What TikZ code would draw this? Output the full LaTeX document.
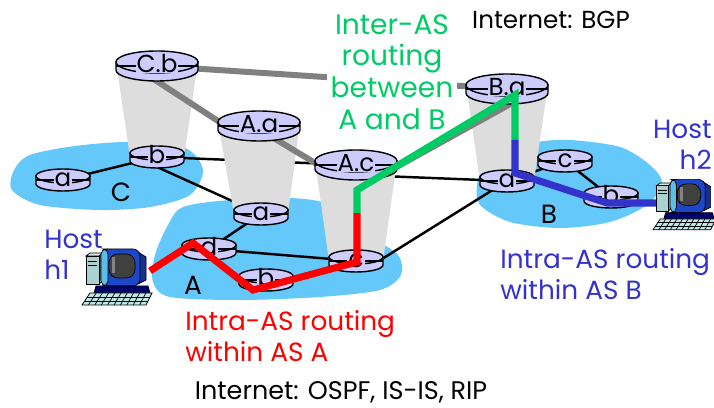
\documentclass[tikz,border=0pt]{standalone}
\usepackage{fontspec}
\setmainfont{Poppins}
\usetikzlibrary{calc}

\definecolor{cloudblue}{RGB}{100,200,250}
\definecolor{rtrfill}{RGB}{204,204,255}
\definecolor{pillargray}{RGB}{221,221,221}
\definecolor{linkgray}{RGB}{128,128,128}
\definecolor{bgpgreen}{RGB}{0,204,102}
\definecolor{ospfblue}{RGB}{51,51,204}
\definecolor{pctower}{RGB}{170,210,210}
\definecolor{pcblue}{RGB}{30,70,200}
\definecolor{pccyan}{RGB}{90,190,230}
\definecolor{pcscreen}{RGB}{64,64,64}
\definecolor{pcnavy}{RGB}{0,0,110}
\definecolor{pckeys}{RGB}{190,232,232}

\tikzset{
  cloud/.style={fill=cloudblue},
  pillar/.style={fill=pillargray},
  link/.style={line width=1.4pt},
  aslink/.style={draw=linkgray, line width=3.4pt},
  route/.style={line width=4pt},
  rtr/.style={draw, fill=rtrfill, line width=0.8pt},
  rtrlabel/.style={fill=rtrfill, inner sep=0.6pt, text height=0.72em, text depth=0pt,
                   font=\fontsize{14}{14}\selectfont},
  aslabel/.style={font=\fontsize{15}{15}\selectfont},
  note/.style={inner sep=0pt, font=\fontsize{15}{18}\selectfont},
  hosttext/.style={note, text=ospfblue},
  computer/.pic={
    % tower
    \draw[fill=pctower!75!black] (17,-13) -- (21,-10) -- (21,-38) -- (17,-41) -- cycle;
    \draw[fill=pctower!50!white] (4,-13) -- (8,-10) -- (21,-10) -- (17,-13) -- cycle;
    \draw[fill=pctower] (4,-13) rectangle (17,-41);
    \draw (6,-18) -- (15,-18) (6,-22) -- (15,-22);
    % monitor
    \draw[fill=pcblue!70!black] (56,-9) -- (64,-14) -- (64,-37) -- (56,-41) -- cycle;
    \draw[fill=pcblue, rounded corners=4] (19,-6) rectangle (58,-43);
    \draw[fill=pccyan, rounded corners=3] (19,-6) rectangle (26,-43);
    \draw[fill=pcscreen, rounded corners=5] (27,-11) rectangle (53,-35);
    \fill[white, opacity=0.35] (30,-14) rectangle (33,-30);
    % base and keyboard
    \draw[fill=pcnavy] (14,-43) -- (66,-43) -- (68,-50) -- (12,-50) -- cycle;
    \draw[fill=pckeys] (8,-50) -- (70,-50) -- (64,-62) -- (0,-62) -- cycle;
    \draw (5.3,-54) -- (68,-54) (2.7,-58) -- (66,-58);
    \foreach \i in {1,...,9} \draw ({8+6.2*\i},-50) -- ({6.4*\i},-62);
  }
}

% router: #1 name, #2 label, #3 x radius, #4 y radius
\newcommand{\router}[4]{
  \begin{scope}[shift={(#1)}]
    \draw[rtr] (-#3,4) -- (-#3,-4) arc[start angle=180, end angle=360, x radius=#3, y radius=#4] -- (#3,4) -- cycle;
    \draw[rtr] (0,4) ellipse[x radius=#3, y radius=#4];
    \draw[line width=0.8pt] (-#3,0) -- (#3,0);
    \node[rtrlabel] (#1l) at (0,0) {#2};
  \end{scope}
}

\begin{document}
\begin{tikzpicture}[x=0.02cm, y=0.02cm]
\useasboundingbox (0,0) rectangle (714,-408);

% the three autonomous systems
\fill[cloud] plot[smooth cycle] coordinates {(30,-155) (75,-146) (130,-142) (185,-148) (203,-170)
  (190,-195) (150,-207) (100,-210) (40,-205) (12,-190) (14,-170)};
\fill[cloud] plot[smooth cycle] coordinates {(183,-207) (230,-200) (290,-198) (330,-205) (370,-236)
  (398,-255) (401,-275) (380,-290) (320,-297) (240,-300) (170,-297) (153,-282) (155,-255) (168,-225)};
\fill[cloud] plot[smooth cycle] coordinates {(487,-152) (537,-142) (570,-140) (620,-147) (650,-165)
  (662,-183) (647,-205) (610,-222) (560,-228) (510,-222) (480,-205) (477,-185) (483,-162)};

% gateway routers
\coordinate (gCb) at (157,-66);
\coordinate (gAa) at (259,-126);
\coordinate (gAc) at (356,-165);
\coordinate (gBa) at (507,-89);
% internal routers
\coordinate (rCa) at (63,-180);
\coordinate (rCb) at (157,-157);
\coordinate (rAa) at (261,-214);
\coordinate (rAd) at (209,-249);
\coordinate (rAb) at (266,-280);
\coordinate (rAc) at (356,-261);
\coordinate (rBa) at (507,-181);
\coordinate (rBc) at (565,-161);
\coordinate (rBb) at (611,-197);

% physical links
\draw[link] (rCa) -- (rCb);
\draw[link] (rCb) -- (gAc);
\draw[link] ($(rCb)+(0,-10)$) -- (rAa);
\draw[link] (rAa) -- (rAd);
\draw[link] (rAd) -- (rAc);
\draw[link] ($(gAc)+(0,-10)$) -- (rBa);
\draw[link] ($(rAc)+(10,-8)$) -- (rBa);
\draw[link] (rBa) -- (rBc);
\draw[link] (rBc) -- (rBb);

% gateway pillars
\foreach \g/\r in {gCb/rCb, gAa/rAa, gAc/rAc, gBa/rBa}
  \fill[pillar] ($(\g)+(-41,4)$) -- ($(\g)+(41,4)$) -- ($(\r)+(27,0)$) -- ($(\r)+(-27,0)$) -- cycle;

% links between gateways
\draw[aslink] (gCb) -- (gBa);
\draw[aslink] ($(gCb)+(-5,-12)$) -- ($(gAa)+(-21,-8)$);
\draw[aslink] ($(gAa)+(3,-5)$) -- ($(gAc)+(-21,-10)$);
\draw[aslink] ($(gAc)+(26,-10)$) -- ($(gBa)+(7,-13)$);

\router{gCb}{C.b}{41}{11}
\router{gAa}{A.a}{41}{11}
\router{gAc}{A.c}{41}{11}
\router{gBa}{B.a}{41}{11}
\router{rCa}{a}{27}{7}
\router{rCb}{b}{27}{7}
\router{rAa}{a}{27}{7}
\router{rAd}{d}{27}{7}
\router{rAb}{b}{27}{7}
\router{rAc}{c}{27}{7}
\router{rBa}{a}{27}{7}
\router{rBc}{c}{27}{7}
\router{rBb}{b}{27}{7}

\node[aslabel] (lblC) at (121,-192) {C};
\node[aslabel] (lblA) at (193,-285) {A};
\node[aslabel] (lblB) at (549,-214) {B};

\node[fill=white, inner sep=2pt, align=center, text=bgpgreen,
      font=\fontsize{16}{18}\selectfont] (interas) at (392,-72) {Inter-AS\\routing\\between\\A and B};
\node[inner sep=0pt, font=\fontsize{14}{16}\selectfont] (bgp) at (551,-20) {Internet: BGP};
\node[inner sep=0pt, font=\fontsize{14.5}{16}\selectfont] (igp) at (341,-392) {Internet: OSPF, IS-IS, RIP};

% host to host route
\coordinate (h1) at (150,-271);
\coordinate (pd) at (193,-243);
\coordinate (pb) at (253,-290);
\coordinate (pc) at (357,-262);
\coordinate (pA) at (357,-213);
\coordinate (pA2) at (357,-190);
\coordinate (pBa) at (515,-95);
\coordinate (pB) at (515,-140);
\coordinate (pB2) at (515,-173);
\coordinate (pBb) at (607,-203);
\coordinate (h2) at (662,-203);
\draw[route, red] (h1) -- (pd) -- (pb) -- (pc) -- (pA);
\draw[route, bgpgreen] (pA) -- (pA2) -- (pBa) -- (pB);
\draw[route, ospfblue] (pB) -- (pB2) -- (pBb) -- (h2);

\pic (host1) at (82,-243) {computer};
\pic[scale=0.9] (host2) at (653,-174) {computer};

\node[hosttext, align=left, anchor=west] (h1lbl) at (44,-255) {Host\\h1};
\node[hosttext, align=right, anchor=east] (h2lbl) at (712,-145) {Host\\h2};
\node[hosttext, align=left, anchor=west] (intraB) at (500,-274) {Intra-AS routing\\within AS B};
\node[note, text=red, align=left, anchor=west] (intraA) at (185,-336) {Intra-AS routing\\within AS A};
\end{tikzpicture}
\end{document}
